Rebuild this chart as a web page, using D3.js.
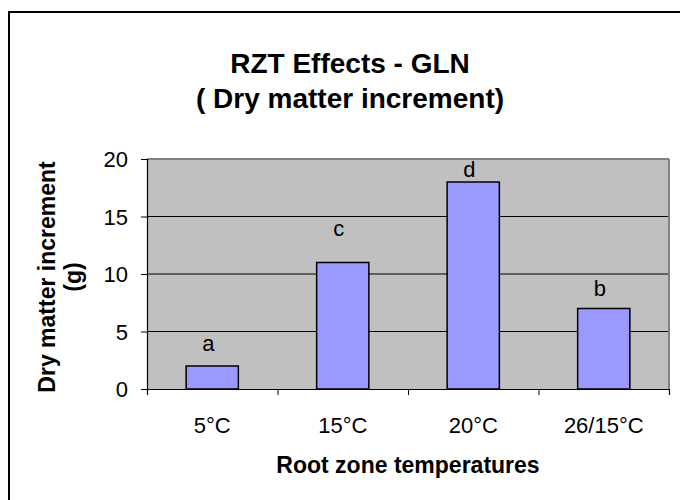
<!DOCTYPE html>
<html>
<head>
<meta charset="utf-8">
<script src="https://cdn.jsdelivr.net/npm/d3@7"></script>
<style>
  body { margin: 0; background: #fff; }
  svg text { font-family: "Liberation Sans", Arial, sans-serif; fill: #000; }
</style>
</head>
<body>
<div id="chart"></div>
<script>
(function(){
  // data
  const temps = ['5°C', '15°C', '20°C', '26/15°C'];
  const dryMatter = [2, 11, 18, 7];
  const letters = ['a', 'c', 'd', 'b'];
  const letterAt = [3.3, 13.3, 18.45, 8.1]; // baseline of each letter, in grams
  const yTicks = [0, 5, 10, 15, 20];

  const width = 680;
  const height = 500;
  const plot = { left: 147, right: 669, top: 159, bottom: 389 };

  const svg = d3.select('#chart')
    .append('svg')
    .attr('width', width)
    .attr('height', height);

  // chart frame (runs off the right and bottom edge)
  svg.append('rect')
    .attr('x', 9)
    .attr('y', 12)
    .attr('width', 700)
    .attr('height', 520)
    .attr('fill', 'none')
    .attr('stroke', '#000')
    .attr('stroke-width', 2);

  // titles
  svg.append('text')
    .attr('x', 350)
    .attr('y', 73)
    .attr('text-anchor', 'middle')
    .style('font-size', '28px')
    .style('font-weight', 'bold')
    .text('RZT Effects - GLN');
  svg.append('text')
    .attr('x', 350)
    .attr('y', 108)
    .attr('text-anchor', 'middle')
    .style('font-size', '28px')
    .style('font-weight', 'bold')
    .text('( Dry matter increment)');

  const x = d3.scaleBand()
    .domain(temps)
    .range([plot.left, plot.right])
    .paddingInner(0.6)
    .paddingOuter(0.3);
  const y = d3.scaleLinear()
    .domain([0, 20])
    .range([plot.bottom, plot.top]);

  // plot area
  svg.append('rect')
    .attr('x', plot.left)
    .attr('y', plot.top)
    .attr('width', plot.right - plot.left)
    .attr('height', plot.bottom - plot.top)
    .attr('fill', '#c0c0c0');

  svg.append('g')
    .selectAll('line')
    .data(yTicks.filter(d => d > 0))
    .enter().append('line')
    .attr('x1', plot.left)
    .attr('x2', plot.right)
    .attr('y1', d => y(d))
    .attr('y2', d => y(d))
    .attr('stroke', d => d === 20 ? '#808080' : '#000')
    .attr('stroke-width', d => d === 20 ? 2 : 1);

  // right border of plot area
  svg.append('line')
    .attr('x1', plot.right)
    .attr('x2', plot.right)
    .attr('y1', plot.top)
    .attr('y2', plot.bottom)
    .attr('stroke', '#808080')
    .attr('stroke-width', 2);

  // bars
  svg.append('g')
    .selectAll('rect')
    .data(dryMatter)
    .enter().append('rect')
    .attr('x', (d, i) => x(temps[i]))
    .attr('y', d => y(d))
    .attr('width', x.bandwidth())
    .attr('height', d => y(0) - y(d))
    .attr('fill', '#9999ff')
    .attr('stroke', '#000')
    .attr('stroke-width', 1.5);

  // significance letters
  svg.append('g')
    .selectAll('text')
    .data(letters)
    .enter().append('text')
    .attr('x', (d, i) => x(temps[i]) + x.bandwidth() / 2 - 4)
    .attr('y', (d, i) => y(letterAt[i]))
    .attr('text-anchor', 'middle')
    .style('font-size', '22px')
    .text(d => d);

  // y axis
  const yAxis = svg.append('g')
    .attr('transform', 'translate(' + plot.left + ',0)')
    .call(d3.axisLeft(y).tickValues(yTicks).tickSize(6).tickPadding(13));
  yAxis.select('.domain').attr('stroke', '#000').attr('stroke-width', 1.2);
  yAxis.selectAll('.tick line').attr('stroke', '#000');
  yAxis.selectAll('.tick text')
    .style('font-size', '22px')
    .attr('dy', '0.35em');

  // x axis: ticks sit on category boundaries
  const xEdge = d3.scaleLinear().domain([0, temps.length]).range([plot.left, plot.right]);
  const xAxis = svg.append('g')
    .attr('transform', 'translate(0,' + plot.bottom + ')')
    .call(d3.axisBottom(xEdge).tickValues(d3.range(temps.length + 1)).tickSize(6).tickFormat(''));
  xAxis.select('.domain').attr('stroke', '#000').attr('stroke-width', 1.2);
  xAxis.selectAll('.tick line').attr('stroke', '#000');

  svg.append('g')
    .selectAll('text')
    .data(temps)
    .enter().append('text')
    .attr('x', d => x(d) + x.bandwidth() / 2)
    .attr('y', 433)
    .attr('text-anchor', 'middle')
    .style('font-size', '22px')
    .text(d => d);

  // axis titles
  svg.append('text')
    .attr('x', (plot.left + plot.right) / 2)
    .attr('y', 473)
    .attr('text-anchor', 'middle')
    .style('font-size', '23px')
    .style('font-weight', 'bold')
    .text('Root zone temperatures');

  const yTitle = svg.append('text')
    .attr('transform', 'translate(0,' + ((plot.top + plot.bottom) / 2 + 3) + ') rotate(-90)')
    .attr('text-anchor', 'middle')
    .style('font-size', '23px')
    .style('font-weight', 'bold');
  yTitle.append('tspan').attr('x', 0).attr('y', 55).text('Dry matter increment');
  yTitle.append('tspan').attr('x', 0).attr('y', 81).text('(g)');
})();
</script>
</body>
</html>
